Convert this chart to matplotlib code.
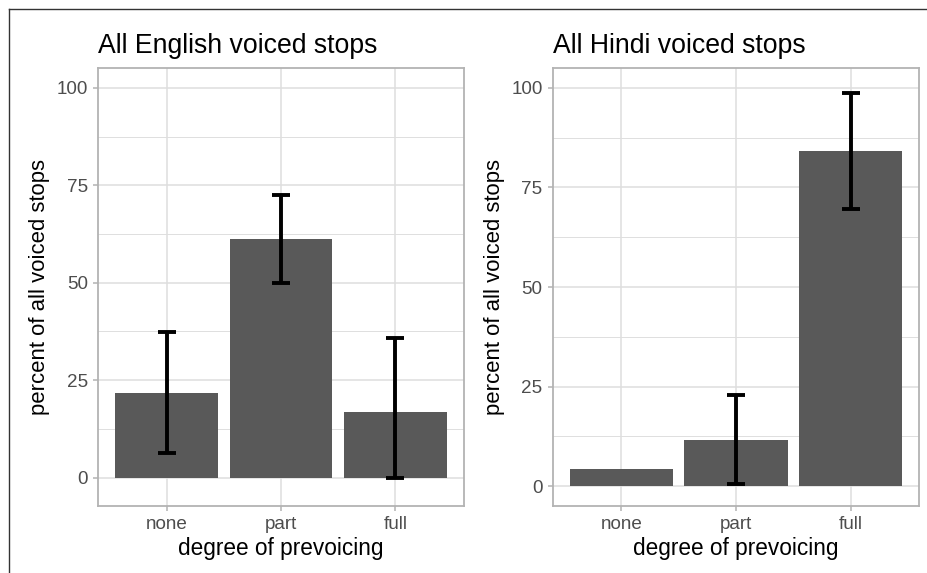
import matplotlib
matplotlib.use("Agg")
import matplotlib.pyplot as plt
from matplotlib.lines import Line2D

plt.rcParams['font.family'] = ['Liberation Sans', 'DejaVu Sans']

# data
categories = ["none", "part", "full"]

english_pct = [21.7, 61.2, 16.8]
english_lo = [6.3, 49.8, 0.0]
english_hi = [37.3, 72.5, 35.7]

hindi_pct = [4.2, 11.7, 84.1]
hindi_lo = [4.2, 0.6, 69.7]
hindi_hi = [4.2, 23.0, 98.6]

titles = ["All English voiced stops", "All Hindi voiced stops"]
ylims = [(-7.3, 105.1), (-5.0, 105.0)]

bar_col = "#595959"
grid_major = "#DEDEDE"
border_col = "#B3B3B3"
tick_col = "#4D4D4D"

fig = plt.figure(figsize=(9.27, 5.73), dpi=100)
W, H = 927, 573
boxes = [(98, 68, 464, 506), (552.7, 68, 919.3, 506)]

panels = [(english_pct, english_lo, english_hi), (hindi_pct, hindi_lo, hindi_hi)]

for (x0, y0, x1, y1), (pct, lo, hi), title, yl in zip(boxes, panels, titles, ylims):
    ax = fig.add_axes([x0 / W, 1 - y1 / H, (x1 - x0) / W, (y1 - y0) / H])
    xs = list(range(1, len(categories) + 1))
    ax.bar(xs, pct, width=0.9, color=bar_col, zorder=3)
    # error bars (skip zero-length ones)
    ex, ey, elo, ehi = [], [], [], []
    for x, p, l, h in zip(xs, pct, lo, hi):
        if h - l > 0.01:
            ex.append(x)
            ey.append(p)
            elo.append(p - l)
            ehi.append(h - p)
    ax.errorbar(ex, ey, yerr=[elo, ehi], fmt="none", ecolor="black",
                elinewidth=2.8, capsize=6.4, capthick=2.8, zorder=4)

    ax.set_xlim(0.4, 3.6)
    ax.set_ylim(*yl)
    ax.set_xticks(xs)
    ax.set_xticklabels(categories)
    ax.set_yticks([0, 25, 50, 75, 100])
    ax.set_yticks([12.5, 37.5, 62.5, 87.5], minor=True)

    ax.grid(True, which="major", color=grid_major, linewidth=1.1, zorder=0)
    ax.grid(True, which="minor", axis="y", color=grid_major, linewidth=0.7, zorder=0)
    ax.set_axisbelow(True)
    for s in ax.spines.values():
        s.set_color(border_col)
        s.set_linewidth(1.3)
    ax.tick_params(which="major", length=3.8, width=1.1, color=border_col,
                   labelsize=13.6, labelcolor=tick_col, pad=3.5)
    ax.tick_params(which="minor", length=0)

    ax.set_xlabel("degree of prevoicing", fontsize=16.3, labelpad=3)
    ax.set_ylabel("percent of all voiced stops", fontsize=15.9, labelpad=4.5)
    ax.set_title(title, loc="left", fontsize=19.2, pad=10.5)

# outer frame, cut off at right and bottom like the reference
fig.add_artist(Line2D([9 / W, 1.0], [1 - 9.3 / H, 1 - 9.3 / H], color="#333333", linewidth=1.0))
fig.add_artist(Line2D([9 / W, 9 / W], [0.0, 1 - 9.3 / H], color="#333333", linewidth=1.0))

fig.savefig("out.png", dpi=100)
